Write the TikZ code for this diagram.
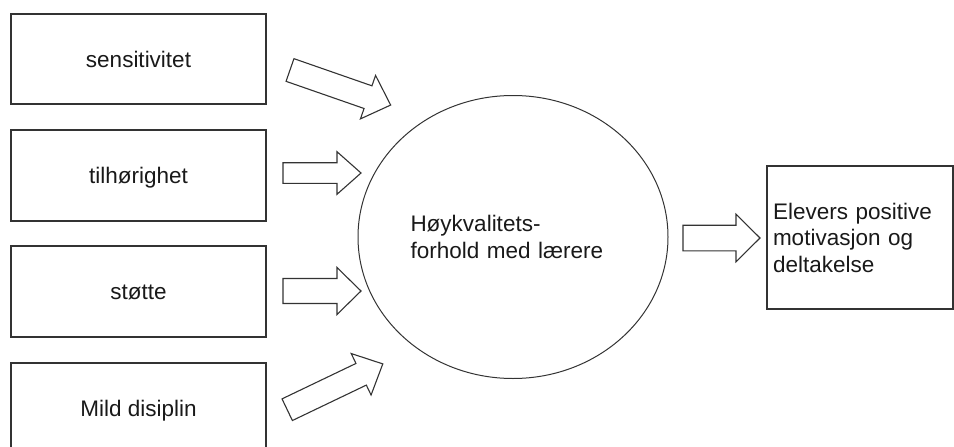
\documentclass[tikz,border=0pt]{standalone}
\usepackage{fontspec}
\setmainfont{Liberation Sans}
\usetikzlibrary{shapes.geometric}

\tikzset{
	boks/.style = {draw=black!80, line width=1.3pt, inner sep=0pt,
		minimum width=255pt, minimum height=91pt,
		text height=16pt, text depth=0pt},
	pil/.style = {draw=black!80, line width=1.1pt, line join=miter}
}
% block arrow: tail point, angle, length, half shaft width
\newcommand\blokkpil[4]{%
	\draw[pil, shift={(#1)}, rotate=#2]
		(0, -#4) -- ({#3-24}, -#4) -- ({#3-24}, {-#4-11}) --
		(#3, 0) --
		({#3-24}, {#4+11}) -- ({#3-24}, #4) -- (0, #4) -- cycle;}

\begin{document}
\begin{tikzpicture}[x=1pt, y=-1pt, text=black!90,
	font=\fontsize{22.5}{26.5}\selectfont]
\useasboundingbox (0, 0) rectangle (954, 447);
\clip (0, 0) rectangle (954, 447);

% left boxes
\node[boks, minimum height=90pt] (sens) at (138.5, 59) {sensitivitet};
\node[boks] (tilh) at (138.5, 175.5) {tilhørighet};
\node[boks] (stotte) at (138.5, 291.5) {støtte};
\node[boks] (mild) at (138.5, 408.5) {Mild disiplin};

% middle
\node[ellipse, draw=black!80, line width=1pt, inner sep=0pt,
	minimum width=310pt, minimum height=283pt,
	text width=205pt, align=left]
	(forhold) at (513, 237) {Høykvalitets-\\forhold med lærere};

% right
\node[draw=black!80, line width=1.3pt, inner xsep=6pt,
	minimum width=186pt, minimum height=143pt,
	text width=174pt, align=left]
	(elever) at (860, 237.5) {Elevers positive\\motivasjon og\\deltakelse};

% arrows
\blokkpil{290, 70}{-19.2}{106.6}{12}
\blokkpil{283, 173}{0}{78}{10.3}
\blokkpil{283, 291}{0}{78}{12.5}
\blokkpil{287.2, 409.7}{25.6}{106}{12}
\blokkpil{683, 238}{0}{77}{12.8}

\end{tikzpicture}
\end{document}
